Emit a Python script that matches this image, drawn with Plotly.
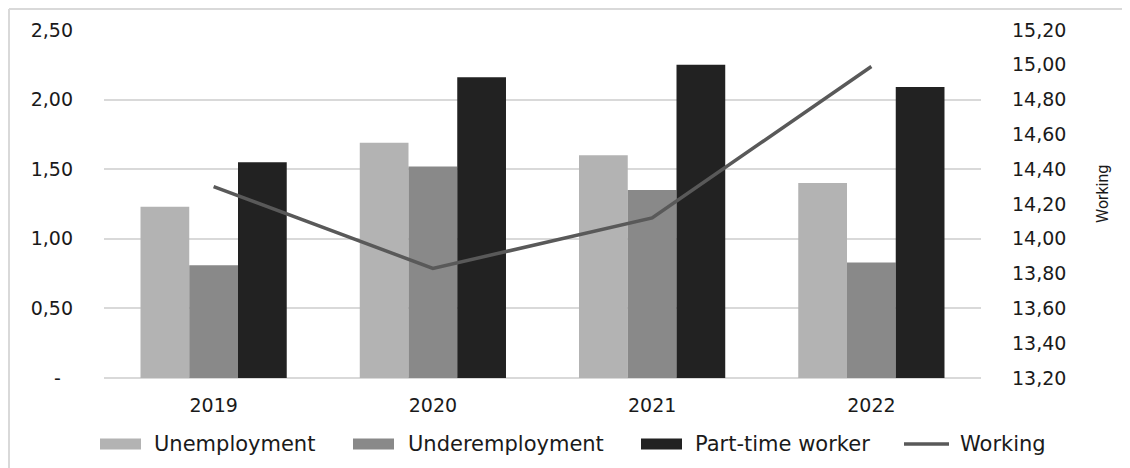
import plotly.graph_objects as go

years = ["2019", "2020", "2021", "2022"]
unemployment = [1.23, 1.69, 1.60, 1.40]
underemployment = [0.81, 1.52, 1.35, 0.83]
part_time = [1.55, 2.16, 2.25, 2.09]
working = [14.30, 13.83, 14.12, 14.99]

left_tickvals = [0, 0.5, 1.0, 1.5, 2.0, 2.5]
left_ticktext = ["-\u00a0\u00a0", "0,50", "1,00", "1,50", "2,00", "2,50"]
right_tickvals = [13.2, 13.4, 13.6, 13.8, 14.0, 14.2, 14.4, 14.6, 14.8, 15.0, 15.2]
right_ticktext = ["13,20", "13,40", "13,60", "13,80", "14,00", "14,20",
                  "14,40", "14,60", "14,80", "15,00", "15,20"]

series_names = ["Unemployment", "Underemployment", "Part-time worker", "Working"]

C_UNEMP = "#b3b3b3"
C_UNDER = "#898989"
C_PART = "#222222"
C_WORK = "#595959"
FONT = "DejaVu Sans"
TXT = "#1a1a1a"

# The page body adds an 8px offset; geometry below is given in screen pixels
OFF = 8
W, H = 1130, 468
ML, MT = 104 - OFF, 30 - OFF
PW, PH = 877, 348
MR, MB = W - ML - PW, H - MT - PH


def px(x):
    return (x - OFF - ML) / PW


def py(y):
    return (MT + PH - (y - OFF)) / PH


fig = go.Figure()
for name, vals, col in [(series_names[0], unemployment, C_UNEMP),
                        (series_names[1], underemployment, C_UNDER),
                        (series_names[2], part_time, C_PART)]:
    fig.add_trace(go.Bar(x=years, y=vals, name=name, marker=dict(color=col, line=dict(width=0)),
                         yaxis="y"))

fig.add_trace(go.Scatter(x=years, y=working, name=series_names[3], mode="lines",
                         line=dict(color=C_WORK, width=3.5), yaxis="y2"))

fig.update_layout(
    width=W, height=H,
    margin=dict(l=ML, r=MR, t=MT, b=MB, autoexpand=False),
    paper_bgcolor="white", plot_bgcolor="white",
    barmode="group", bargap=0.333, bargroupgap=0,
    font=dict(family=FONT, size=19, color=TXT),
    showlegend=False,
    xaxis=dict(type="category", showgrid=False, zeroline=False, showline=False, automargin=False,
               ticks="", ticklabelstandoff=14, tickfont=dict(size=19)),
    yaxis=dict(range=[0, 2.5], tickvals=left_tickvals, ticktext=left_ticktext, automargin=False,
               showgrid=True, gridcolor="#d9d9d9", gridwidth=1.5,
               zeroline=True, zerolinecolor="#d9d9d9", zerolinewidth=1.5,
               showline=False, ticks="", ticklabelstandoff=30, tickfont=dict(size=19)),
    yaxis2=dict(range=[13.2, 15.2], tickvals=right_tickvals, ticktext=right_ticktext,
                overlaying="y", side="right", showgrid=False, zeroline=False, automargin=False,
                showline=False, ticks="", ticklabelstandoff=30, tickfont=dict(size=19)),
)

fig.add_annotation(text="Working", xref="paper", yref="paper", x=px(1102), y=py(194),
                   textangle=-90, showarrow=False, font=dict(family="Roboto", size=16, color=TXT),
                   xanchor="center", yanchor="middle")

# legend drawn manually to match the wide swatches of the original
legend_y = 444
swatches = [(100, C_UNEMP, 152), (353, C_UNDER, 406), (641, C_PART, 693)]
for (x0, col, tx), name in zip(swatches, series_names[:3]):
    fig.add_shape(type="rect", xref="paper", yref="paper", x0=px(x0), x1=px(x0 + 41),
                  y0=py(legend_y - 5.5), y1=py(legend_y + 5.5), fillcolor=col, line=dict(width=0))
    fig.add_annotation(text=name, xref="paper", yref="paper", x=px(tx), y=py(legend_y),
                       xanchor="left", yanchor="middle", showarrow=False,
                       font=dict(family=FONT, size=21, color=TXT))
fig.add_shape(type="line", xref="paper", yref="paper", x0=px(904), x1=px(949),
              y0=py(legend_y), y1=py(legend_y), line=dict(color=C_WORK, width=3.5))
fig.add_annotation(text=series_names[3], xref="paper", yref="paper", x=px(958), y=py(legend_y),
                   xanchor="left", yanchor="middle", showarrow=False,
                   font=dict(family=FONT, size=21, color=TXT))

# outer frame (left and top edges visible)
fig.add_shape(type="line", xref="paper", yref="paper", x0=px(9), x1=px(9), y0=py(480), y1=py(9),
              line=dict(color="#d9d9d9", width=2))
fig.add_shape(type="line", xref="paper", yref="paper", x0=px(9), x1=px(1140), y0=py(9), y1=py(9),
              line=dict(color="#d9d9d9", width=2))

fig.write_html("out.html")
